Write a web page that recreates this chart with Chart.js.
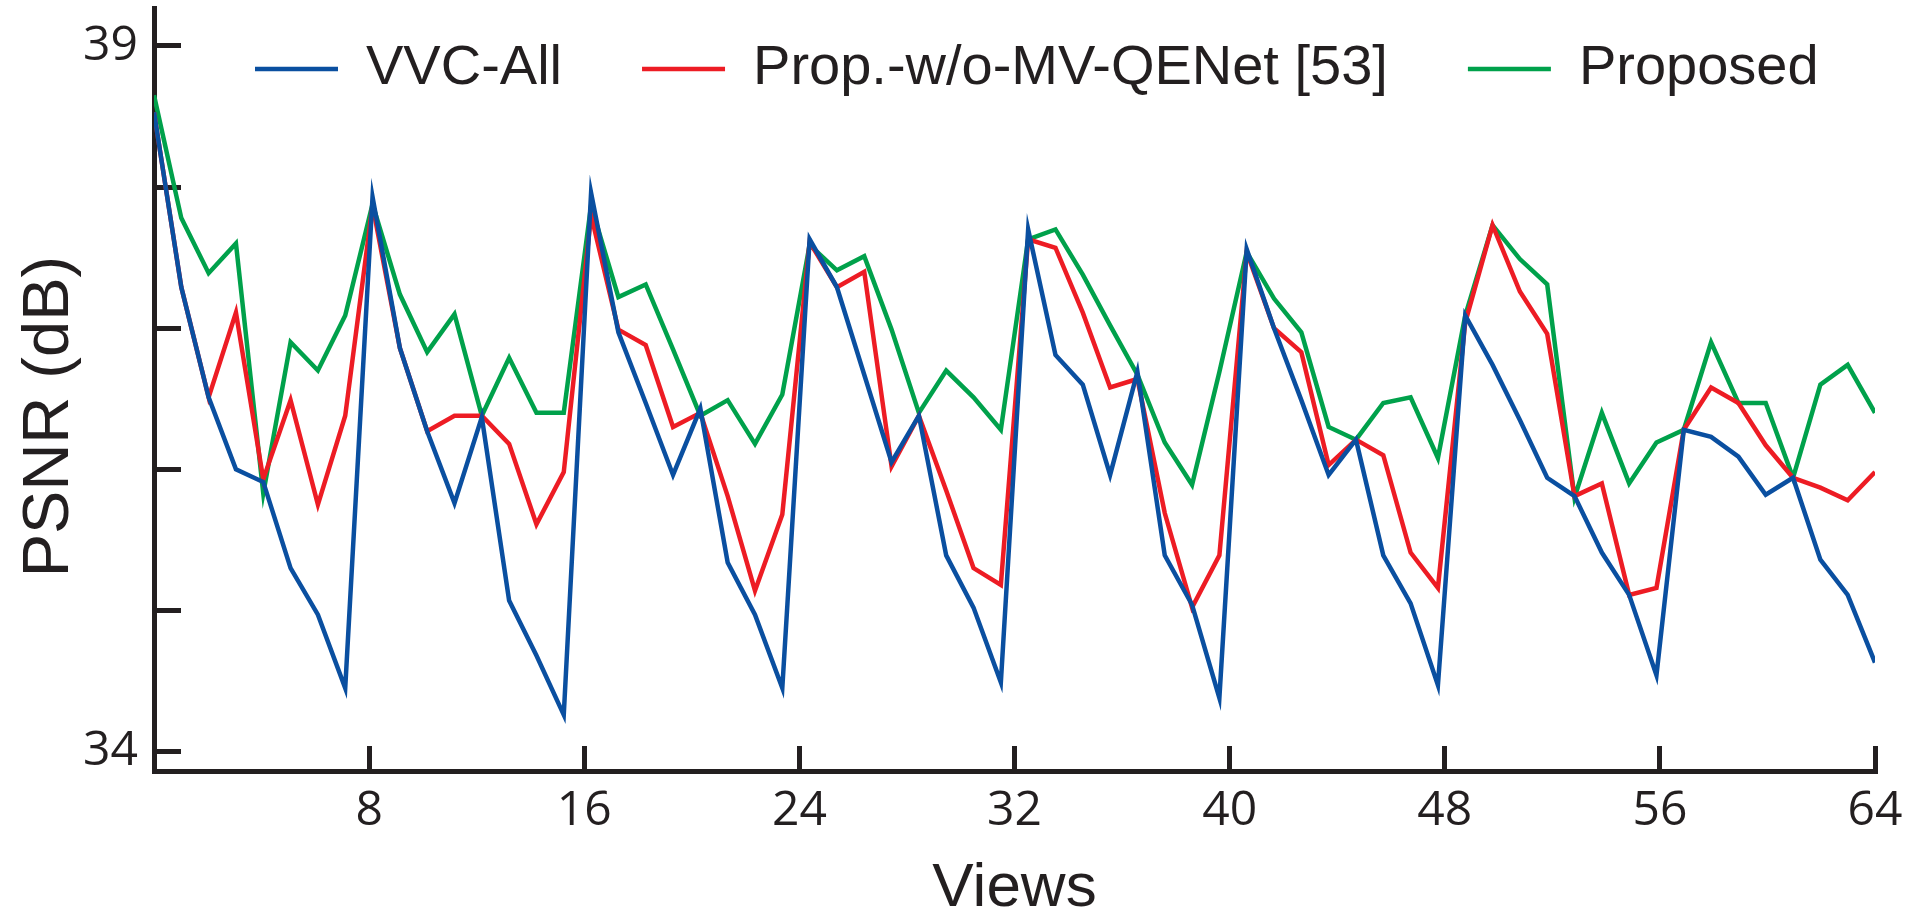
<!DOCTYPE html>
<html>
<head>
<meta charset="utf-8">
<script src="https://cdn.jsdelivr.net/npm/chart.js@4"></script>
<style>
  body { margin: 0; background: #fff; }
</style>
</head>
<body>
<canvas id="graficoPsnr" width="1921" height="916"></canvas>
<script>
//PSNR (dB) de cada una de las 64 vistas.
const vvcAll = [
  38.53, 37.29, 36.51, 36.00, 35.91, 35.30, 34.97, 34.45,
  37.93, 36.86, 36.27, 35.76, 36.37, 35.07, 34.68, 34.26,
  37.96, 36.97, 36.47, 35.96, 36.43, 35.34, 34.97, 34.45,
  37.63, 37.29, 36.67, 36.05, 36.38, 35.39, 35.02, 34.49,
  37.70, 36.81, 36.60, 35.96, 36.69, 35.39, 35.04, 34.38,
  37.56, 37.00, 36.49, 35.96, 36.21, 35.39, 35.05, 34.47,
  37.09, 36.74, 36.35, 35.94, 35.81, 35.41, 35.11, 34.54,
  36.28, 36.23, 36.09, 35.82, 35.94, 35.36, 35.11, 34.63
];
const propSinMvQenet = [
  38.53, 37.29, 36.51, 37.11, 35.93, 36.49, 35.75, 36.38,
  37.87, 36.86, 36.27, 36.38, 36.38, 36.18, 35.61, 35.98,
  37.80, 36.99, 36.88, 36.30, 36.40, 35.81, 35.14, 35.68,
  37.61, 37.29, 37.40, 36.02, 36.38, 35.85, 35.30, 35.18,
  37.63, 37.57, 37.11, 36.58, 36.64, 35.69, 35.02, 35.39,
  37.54, 37.00, 36.83, 36.03, 36.21, 36.10, 35.41, 35.16,
  37.04, 37.73, 37.26, 36.96, 35.81, 35.90, 35.11, 35.16,
  36.28, 36.58, 36.47, 36.17, 35.94, 35.87, 35.78, 35.98
];
const propuesto = [
  38.65, 37.78, 37.39, 37.60, 35.83, 36.90, 36.70, 37.09,
  37.88, 37.24, 36.83, 37.10, 36.38, 36.79, 36.40, 36.40,
  37.87, 37.22, 37.31, 36.85, 36.38, 36.49, 36.18, 36.53,
  37.59, 37.41, 37.51, 36.99, 36.40, 36.70, 36.51, 36.28,
  37.63, 37.70, 37.38, 37.02, 36.67, 36.19, 35.89, 36.69,
  37.54, 37.21, 36.97, 36.30, 36.21, 36.47, 36.51, 36.08,
  37.09, 37.73, 37.49, 37.31, 35.80, 36.40, 35.90, 36.19,
  36.28, 36.90, 36.47, 36.47, 35.94, 36.60, 36.74, 36.40
];
const nombresSeries = ['VVC-All', 'Prop.-w/o-MV-QENet [53]', 'Proposed'];
const ticksX = [8, 16, 24, 32, 40, 48, 56, 64];
const ticksY = [34, 35, 36, 37, 38, 39];
const etiquetasY = [34, 39]; //Solo estos ticks llevan número.

const colorTexto = '#231f20';
const colores = ['#0a4fa0', '#ed1c24', '#00a14b'];

//Las 64 vistas ocupan todo el eje de 0 a 64, como en la figura.
function puntos(serie) {
  return serie.map(function(val, i){
    return {x: i * 64 / (serie.length - 1), y: val};
  });
}

//Leyenda dentro del área del gráfico (no ocupa alto en el layout).
const leyendaDentro = {
  id: 'leyendaDentro',
  beforeInit(chart) {
    const fitOriginal = chart.legend.fit;
    chart.legend.fit = function(){
      fitOriginal.call(this);
      this.height = 0;
    };
  },
  afterLayout(chart) {
    const leyenda = chart.legend;
    leyenda.top -= 47;
    leyenda.bottom = leyenda.top + 160; //el recorte usa top/bottom
    leyenda.left += 175;
    leyenda.right += 175;
  }
};

const ejeComun = {
  border: {display: true, width: 5, color: colorTexto},
  grid: {
    drawOnChartArea: false,
    drawTicks: true,
    lineWidth: 5,
    tickWidth: 5,
    tickColor: colorTexto
  }
};

var ctx = document.getElementById('graficoPsnr').getContext('2d');
var graficoPsnr = new Chart(ctx, {
  type: 'line',
  data: {
    datasets: [vvcAll, propSinMvQenet, propuesto].map(function(serie, k){
      return {
        label: nombresSeries[k],
        data: puntos(serie),
        borderColor: colores[k],
        backgroundColor: colores[k],
        borderWidth: 4.5,
        pointRadius: 0,
        tension: 0
      };
    })
  },
  options: {
    responsive: false,
    animation: false,
    layout: {padding: {top: 8, right: 46, bottom: 0, left: 0}},
    plugins: {
      tooltip: {enabled: false},
      legend: {
        position: 'top',
        align: 'start',
        labels: {
          usePointStyle: true,
          pointStyle: 'line',
          pointStyleWidth: 83,
          padding: 80,
          color: colorTexto,
          font: {family: '"Liberation Sans", Arial, sans-serif', size: 56}
        }
      }
    },
    scales: {
      x: {
        type: 'linear',
        min: 0,
        max: 64,
        border: ejeComun.border,
        grid: Object.assign({}, ejeComun.grid, {tickLength: -25}),
        afterBuildTicks: function(scale){
          scale.ticks = ticksX.map(function(v){ return {value: v}; });
        },
        afterFit: function(scale){
          scale.height = 145;
          scale.paddingLeft = 0;
          scale.paddingRight = 0;
        },
        ticks: {
          maxRotation: 0,
          padding: 37,
          color: colorTexto,
          font: {family: '"Open Sans", sans-serif', size: 48}
        },
        title: {
          display: true,
          text: 'Views',
          color: colorTexto,
          padding: 0,
          font: {family: '"Liberation Sans", Arial, sans-serif', size: 62, lineHeight: 0.88}
        }
      },
      y: {
        min: 33.862,
        max: 39.269,
        border: ejeComun.border,
        grid: Object.assign({}, ejeComun.grid, {tickLength: -27}),
        afterBuildTicks: function(scale){
          scale.ticks = ticksY.map(function(v){ return {value: v}; });
        },
        afterFit: function(scale){
          scale.width = 154;
          scale.paddingTop = 0;
          scale.paddingBottom = 0;
        },
        ticks: {
          padding: 43,
          color: colorTexto,
          font: {family: '"Open Sans", sans-serif', size: 48},
          callback: function(v){
            return etiquetasY.includes(v) ? String(v) : '';
          }
        },
        title: {
          display: true,
          text: 'PSNR (dB)\u00a0\u00a0\u00a0',
          color: colorTexto,
          padding: {top: 11, bottom: 0},
          font: {family: '"Liberation Sans", Arial, sans-serif', size: 65}
        }
      }
    }
  },
  plugins: [leyendaDentro]
});
</script>
</body>
</html>
